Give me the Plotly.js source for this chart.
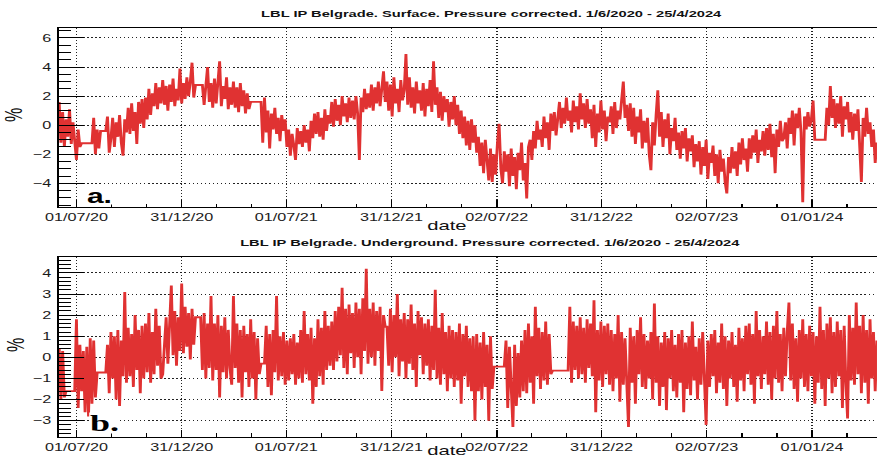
<!DOCTYPE html>
<html><head><meta charset="utf-8">
<script src="https://cdn.plot.ly/plotly-3.0.1.min.js"></script>
<style>
html,body{margin:0;padding:0;background:#fff;overflow:hidden;}
#wrap{width:877px;height:459px;overflow:hidden;position:relative;}
#chart{width:585px;height:459px;transform:scaleX(1.4991);transform-origin:0 0;}
</style></head><body><div id="wrap"><div id="chart"></div></div>
<script>
// sampling of the series: one value every 3 days from 1 June 2020
const startDate = '2020-06-01';
const stepDays = 3;

// a. Surface, pressure corrected (%)
const surfaceVals = [
1.6,-1.2,0.9,-1.5,0.4,-0.8,1.1,-1.3,0.2,-1.0,
-2.4,-0.3,-1.5,-1.24,-1.24,-1.24,-1.24,-1.24,-1.24,-1.24,
0.5,-2.0,-0.3,-1.6,-0.4,-0.4,-0.4,-0.4,0.6,-1.9,
-0.9,0.5,-1.5,0.2,-0.8,0.7,-1.2,-2.1,0.4,-0.5,
1.2,-0.6,1.5,-0.4,0.9,-1.3,1.6,0.1,1.8,-0.2,
1.9,0.4,2.5,0.7,2.2,1.3,2.9,1.1,2.6,1.5,
3.1,1.4,2.7,1.0,2.8,1.6,3.2,1.3,2.5,1.7,
3.9,1.5,2.9,1.8,3.3,2.0,3.0,4.3,1.9,2.76,
2.76,2.76,2.76,2.76,1.4,3.1,4.0,1.6,2.9,1.2,
3.2,1.5,2.8,4.4,1.3,2.7,1.8,3.3,1.1,2.6,
1.4,3.0,1.2,2.6,0.9,2.9,1.3,2.4,0.8,2.2,
1.1,1.6,1.6,1.6,1.6,1.6,1.6,1.6,-1.2,1.9,
-0.5,1.0,-1.6,0.8,-0.3,1.2,-0.6,0.5,-1.1,0.7,
-0.4,0.4,-1.5,-0.3,-2.1,-0.6,-1.4,-2.4,-0.2,-1.3,
-0.4,-1.5,0.0,-1.2,-0.3,-1.8,0.3,-0.9,0.8,-0.6,
0.9,-0.8,0.5,-1.0,1.1,-0.4,0.7,0.1,1.6,-0.1,
1.8,0.3,1.4,0.0,2.0,0.6,1.5,0.2,1.9,0.5,
1.7,0.4,2.0,0.8,-2.4,1.9,0.9,2.5,1.1,2.2,
1.2,2.8,1.0,2.6,1.5,3.0,1.3,2.7,3.7,1.6,
3.0,1.0,2.8,0.6,3.3,1.5,2.5,0.9,3.1,1.7,
2.4,4.9,1.4,3.3,1.2,2.6,0.8,3.0,1.5,2.4,
1.0,2.9,0.6,2.5,1.3,3.1,0.9,4.4,1.4,2.6,
0.5,2.3,0.3,2.0,0.9,1.8,-0.1,1.6,0.4,2.0,
0.0,1.4,-0.6,1.0,-0.9,0.6,-1.4,0.3,-1.7,0.4,
-1.2,0.0,-1.9,-0.8,-2.8,-1.2,-3.3,-1.0,-2.5,-3.8,
-1.6,-3.9,-2.0,-3.4,-1.3,0.1,-3.0,-4.0,-1.8,-3.2,
-2.0,-4.2,-1.6,-3.5,-2.2,-4.4,-1.9,-3.1,-1.2,-3.8,
-2.6,-5.05,-1.5,-1.0,-2.4,-0.4,-1.6,0.3,-1.0,-0.3,
-1.5,0.6,-0.9,0.2,-1.7,0.8,-0.4,0.9,-0.7,0.5,
1.6,-0.2,1.2,0.1,1.9,0.3,1.0,-0.5,1.7,0.2,
1.3,-0.3,2.2,0.4,1.5,-0.2,1.8,0.1,1.1,-0.9,
1.4,-1.5,0.8,-0.5,1.7,-0.3,1.0,-1.1,0.6,0.2,
1.3,-0.6,1.6,-0.2,1.0,0.4,2.0,3.0,0.5,1.4,
-0.4,1.5,-0.8,1.2,-1.3,0.6,-0.5,1.1,-1.6,0.3,
-1.2,0.5,-2.0,-3.1,0.2,-1.4,0.7,2.4,-0.8,0.9,
-1.5,0.4,-0.9,0.8,-2.0,-0.2,-1.1,0.5,-1.7,-0.5,
-2.3,-0.4,-1.6,-0.2,-2.5,-0.9,-1.8,-0.7,-2.9,-1.3,
-2.5,-1.1,-3.4,-1.5,-2.8,-1.0,-3.7,-1.9,-2.6,-1.4,
-3.5,-2.0,-4.0,-1.7,-3.2,-2.3,-3.9,-4.7,-2.2,-3.3,
-1.5,-3.0,-1.8,-3.5,-1.2,-2.7,-0.9,-2.4,-1.6,-3.2,
-0.9,-2.3,-0.7,-1.9,-0.3,-2.6,-1.0,-1.8,-0.4,-2.1,
-0.2,-1.7,0.1,-2.2,-0.6,-3.3,-0.3,-1.5,0.3,-1.1,
-0.9,0.2,-1.6,0.5,-0.6,1.0,-1.4,0.8,-0.2,1.2,
-0.5,-5.3,0.6,-0.3,0.9,-0.1,0.4,1.7,-1.0,-1.0,
-1.0,-1.0,-1.0,-1.0,-1.0,1.2,0.0,2.7,0.5,1.8,
-0.2,1.5,0.1,2.0,-0.8,1.3,0.4,1.6,-0.5,0.9,
-1.0,0.8,-0.4,1.1,-1.3,-3.9,0.5,-0.8,1.2,-0.6,
0.2,-1.5,-0.3,-2.6,-1.2
];

// b. Underground, pressure corrected (%)
const undergroundVals = [
0.4,-2.0,0.3,-1.9,-1.6,-1.6,-1.6,-1.6,-1.6,-1.6,
1.8,-2.4,0.6,-1.6,0.3,-2.6,0.5,-2.8,0.9,-2.2,
0.8,-1.9,-0.72,-0.72,-0.72,-0.72,-0.72,-0.72,0.6,-1.7,
1.2,-1.0,1.0,-2.0,1.3,-2.3,0.8,-0.9,3.1,-1.2,
1.4,-0.9,1.1,-1.4,2.0,-0.6,1.3,-1.7,1.5,-1.0,
1.6,-0.7,2.1,-1.2,1.2,-0.8,2.3,-0.4,1.5,-1.0,
-0.8,0.5,1.9,-0.3,1.7,3.4,0.1,2.2,-0.4,1.9,
0.3,3.5,0.2,2.4,0.5,2.1,-0.1,2.3,0.6,1.9,
1.9,1.9,1.9,-0.6,2.1,-1.0,1.6,-0.5,2.9,-1.1,
1.6,-0.6,2.0,-1.9,1.5,-0.7,1.9,-1.0,1.3,-0.5,
-1.3,2.9,-0.5,1.6,-1.2,1.3,-1.9,1.5,-0.7,1.1,
-1.4,1.8,-1.0,1.2,-2.0,0.9,-0.8,-0.3,-0.3,-0.3,
1.5,-1.4,1.1,-1.8,1.3,-0.7,2.9,-1.1,1.0,-0.9,
1.2,-1.3,0.8,-1.1,0.9,-0.8,1.1,-1.3,0.7,-1.0,
1.3,-1.2,2.2,-0.8,1.1,-1.1,1.4,-2.2,0.9,-1.4,
1.8,-0.9,1.4,-1.3,2.2,-0.6,1.5,-0.4,1.7,-0.6,
2.2,-0.2,2.4,0.1,3.3,-0.5,2.3,-0.8,2.5,0.2,
2.1,-0.5,2.6,0.0,2.3,-0.8,2.8,0.3,4.2,-0.3,
2.3,0.0,2.6,-0.4,2.2,0.3,2.4,-1.6,2.0,1.45,
1.45,-0.4,2.3,-0.7,2.0,0.0,3.0,-0.9,1.8,-0.2,
2.1,-1.0,1.8,-0.3,2.5,-0.6,1.6,-1.4,2.2,0.1,
1.9,-0.8,1.6,-0.4,1.8,-1.1,1.5,-0.6,3.2,-1.0,
1.4,-1.3,2.1,-0.8,1.2,-1.6,1.5,-1.0,1.3,-1.4,
1.2,-1.1,1.6,-2.2,1.1,-0.9,1.5,-1.4,0.9,-1.6,
1.0,-3.0,1.1,-1.6,0.7,-2.0,1.2,-1.4,0.6,-3.0,
1.0,-1.5,-0.44,-0.44,-0.44,-0.44,-0.44,-0.44,-0.44,0.8,
-2.4,0.5,-1.8,-3.3,0.6,-2.3,0.2,-1.9,0.8,-1.6,
1.3,-1.7,1.6,-1.2,1.0,-2.2,2.4,-0.9,1.4,-1.5,
1.2,-1.1,1.7,-1.3,1.1,-0.8,-0.63,-0.63,-0.63,-0.63,
-0.63,-0.63,-0.63,-0.63,-0.63,-0.63,2.4,-1.2,1.7,-0.6,
1.5,-1.0,1.9,-0.8,1.4,-1.2,1.8,-0.5,1.6,-0.9,
2.7,-2.6,1.3,-1.1,1.7,-1.4,1.5,-0.8,1.6,-1.3,
1.3,-1.6,1.1,-1.0,2.0,-2.1,1.2,-1.3,0.9,-1.5,
-3.3,1.4,-1.2,1.0,-2.2,1.3,-0.8,1.9,-1.4,1.1,
-1.5,0.8,-1.0,1.2,-2.0,2.55,-1.2,1.0,-2.3,0.7,
-1.4,1.2,-2.5,0.9,-1.0,1.3,-1.6,0.6,-1.9,1.1,
-1.2,1.3,-2.6,0.7,-1.5,1.0,-1.8,1.7,-1.1,0.5,
-2.0,0.9,-1.3,1.2,-1.7,-3.2,0.8,-1.4,1.1,-0.9,
1.3,-1.7,0.7,-1.2,1.6,-1.5,1.0,-2.3,0.8,-1.0,
1.2,-1.4,0.6,-2.1,1.4,-1.1,0.9,-1.6,1.5,-0.8,
1.6,-1.3,1.1,-2.2,2.2,-0.9,1.3,-1.5,1.0,-0.8,
1.7,-1.3,1.2,-2.0,1.5,-1.0,2.2,-1.2,1.1,-1.6,
1.4,-0.9,1.2,2.6,-1.1,1.6,-1.5,0.9,-2.1,1.3,
-1.0,1.8,-1.4,1.1,-1.6,1.5,-0.9,1.2,-2.2,1.0,
-1.2,2.4,-1.5,1.3,-2.3,1.6,-1.0,1.9,-1.7,1.2,
-1.4,1.7,-0.9,1.3,-2.4,1.5,-1.2,-2.9,2.0,-1.1,
1.4,-1.3,2.6,-0.8,1.5,-1.7,2.0,-1.2,1.3,-2.2,
1.8,-1.0,1.2,-1.6,0.8
];

const tickDates = ['2020-07-01','2020-12-31','2021-07-01','2021-12-31','2022-07-02','2022-12-31','2023-07-02','2024-01-01'];
const tickLabels = ['01/07/20','31/12/20','01/07/21','31/12/21','02/07/22','31/12/22','02/07/23','01/01/24'];
const titleA = 'LBL IP Belgrade. Surface. Pressure corrected. 1/6/2020 - 25/4/2024';
const titleB = 'LBL IP Belgrade. Underground. Pressure corrected. 1/6/2020 - 25/4/2024';
const xTitle = 'date';
const yTitle = '%';

const DAY = 86400000;
function datesFor(n){
  const t0 = Date.parse(startDate + 'T00:00:00Z');
  const out = [];
  for (let i = 0; i < n; i++) out.push(new Date(t0 + i*stepDays*DAY).toISOString().slice(0,10));
  return out;
}
function msToStr(ms){ return new Date(ms).toISOString().replace('T',' ').slice(0,19); }
const minorVals = [];
for (let k = 0; k < tickDates.length; k++){
  const a = Date.parse(tickDates[k] + 'T00:00:00Z');
  const b = k < tickDates.length-1 ? Date.parse(tickDates[k+1] + 'T00:00:00Z')
                                   : a + (a - Date.parse(tickDates[k-1] + 'T00:00:00Z'));
  minorVals.push(msToStr(a + (b-a)/3), msToStr(a + 2*(b-a)/3));
}

const RED = '#e03232';
const TFONT = {family:'Liberation Sans, Arial, sans-serif', size:10.8, color:'#1a1a1a'};
function xAxis(anchor){
  return {
    type:'date', domain:[59/877, 1], range:['2020-05-31 16:00','2024-04-23 02:00'], anchor:anchor,
    tickmode:'array', tickvals:tickDates, ticktext:tickLabels,
    ticks:'inside', ticklen:7, tickwidth:1, tickcolor:'#000',
    showline:true, linecolor:'#000', linewidth:1, mirror:true,
    showgrid:true, gridcolor:'#222', gridwidth:1, griddash:'1px,2px', zeroline:false,
    minor:{tickmode:'array', tickvals:minorVals, ticks:'inside', ticklen:3.5, tickwidth:1, tickcolor:'#000', showgrid:false},
    tickfont:TFONT, ticklabelstandoff:0, fixedrange:true
  };
}
function yAxis(anchor, domain, range, dtick, mdt){
  return {
    domain:domain, range:range, anchor:anchor, tickmode:'linear', tick0:0, dtick:dtick,
    ticks:'inside', ticklen:16.7, tickwidth:1, tickcolor:'#000',
    showline:true, linecolor:'#000', linewidth:1, mirror:false,
    showgrid:true, gridcolor:'#222', gridwidth:1, griddash:'1px,1.7px', zeroline:false,
    minor:{tick0:0, dtick:mdt, ticks:'inside', ticklen:8, tickwidth:1, tickcolor:'#000', showgrid:false},
    tickfont:TFONT, ticklabelstandoff:2, fixedrange:true
  };
}

const traces = [
  {type:'scatter', mode:'lines', x:datesFor(surfaceVals.length), y:surfaceVals, xaxis:'x', yaxis:'y',
   line:{color:RED, width:1.9}, hoverinfo:'skip'},
  {type:'scatter', mode:'lines', x:datesFor(undergroundVals.length), y:undergroundVals, xaxis:'x2', yaxis:'y2',
   line:{color:RED, width:1.9}, hoverinfo:'skip'}
];

function ann(text, x, y, font, extra){
  return Object.assign({text:text, xref:'paper', yref:'paper', x:x/877, y:1-y/459,
    xanchor:'center', yanchor:'middle', showarrow:false, font:font}, extra||{});
}
const layout = {
  width:585, height:459, autosize:false,
  margin:{l:0, r:0, t:0, b:0}, paper_bgcolor:'#fff', plot_bgcolor:'#fff', showlegend:false,
  xaxis:xAxis('y'),
  yaxis:yAxis('x', [1-207/459, 1-27.5/459], [-5.63, 6.72], 2, 0.5),
  xaxis2:xAxis('y2'),
  yaxis2:yAxis('x2', [1-436.7/459, 1-257.3/459], [-3.76, 4.74], 1, 0.2),
  annotations:[
    ann('<b>'+titleA+'</b>', 491, 13, {family:'Liberation Sans, Arial, sans-serif', size:9.8, color:'#111'}),
    ann('<b>'+titleB+'</b>', 490, 242, {family:'Liberation Sans, Arial, sans-serif', size:9.8, color:'#111'}),
    ann(xTitle, 446, 225, {family:'Liberation Sans, Arial, sans-serif', size:13.5, color:'#111'}),
    ann(xTitle, 446, 450, {family:'Liberation Sans, Arial, sans-serif', size:13.5, color:'#111'}),
    ann(yTitle, 15, 115, {family:'Liberation Sans, Arial, sans-serif', size:16, color:'#111'}, {textangle:-90}),
    ann(yTitle, 15, 345, {family:'Liberation Sans, Arial, sans-serif', size:16, color:'#111'}, {textangle:-90}),
    ann('<b>a.</b>', 99.5, 196, {family:'Liberation Sans, Arial, sans-serif', size:20, color:'#000'},
        {bgcolor:'#fff', borderpad:0, height:16}),
    ann('<b>b.</b>', 104, 422.5, {family:'Liberation Serif, Times New Roman, serif', size:24, color:'#000'},
        {bgcolor:'#fff', borderpad:0, height:20})
  ]
};
Plotly.newPlot('chart', traces, layout, {staticPlot:true, displayModeBar:false});
</script>
</body></html>
